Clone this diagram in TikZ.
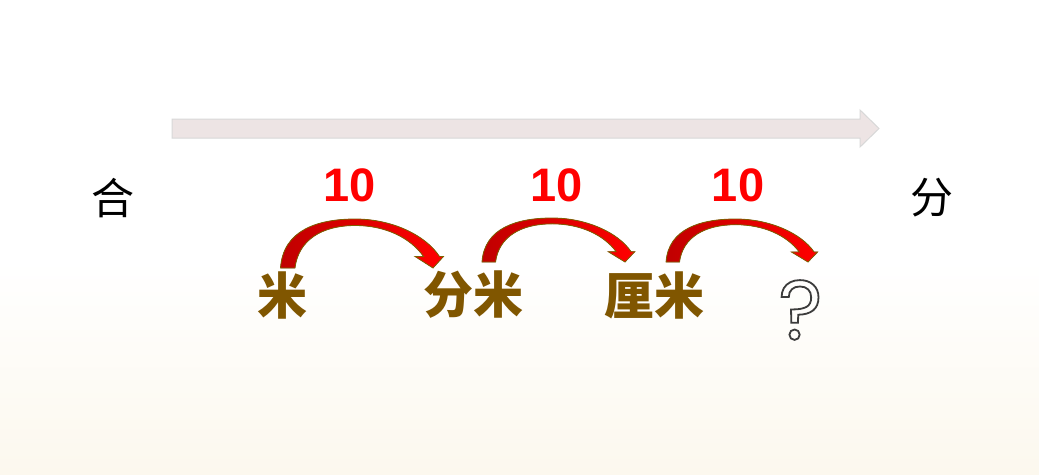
\documentclass[tikz,border=0pt]{standalone}
\usepackage{fontspec}
\setmainfont{Liberation Sans}
\newfontfamily\cjk{Noto Sans CJK SC}
\newfontfamily\roundfont{Poppins}
\usetikzlibrary{calc}
\definecolor{unitbrown}{RGB}{128,86,0}
\definecolor{jumpred}{RGB}{255,0,0}
\definecolor{jumpdark}{RGB}{192,0,0}
\definecolor{jumpedge}{RGB}{128,96,0}
\definecolor{bandfill}{RGB}{237,228,228}
\definecolor{bandedge}{RGB}{216,216,216}
\definecolor{paper}{RGB}{252,248,238}
\definecolor{qgray}{RGB}{60,60,60}

% curved jump arrow: start, tip, rise
\newcommand{\jumparrow}[3]{%
  \path let \p1=($(#2)-(#1)$) in \pgfextra{\pgfmathsetmacro\jumpw{\x1/145.5}\xdef\jumpw{\jumpw}};
  \begin{scope}[shift={(#1)}, xscale=\jumpw, yscale=#3/49]
    \filldraw[jumpfill] (-7.5,0) .. controls (-5,-38) and (30,-49) .. (67.5,-49)
      .. controls (104,-49) and (138,-33) .. (152,-11.5)
      -- (156,-11.5) -- (145.5,0) -- (127.5,-11.5) -- (136,-11.5)
      .. controls (123,-30) and (98,-42.5) .. (67.5,-42.5)
      .. controls (34,-42.5) and (10.5,-28) .. (7,0) -- cycle;
  \end{scope}}

\begin{document}
\begin{tikzpicture}[x=1pt, y=-1pt,
    unit/.style={font=\cjk\bfseries\fontsize{50}{50}\selectfont, text=unitbrown, inner sep=0pt},
    ten/.style={font=\bfseries\fontsize{47}{47}\selectfont, text=jumpred, inner sep=0pt},
    side/.style={font=\cjk\fontsize{43}{43}\selectfont, inner sep=0pt},
    qmark/.style={font=\roundfont\fontsize{84}{84}\selectfont, text=qgray, inner sep=0pt},
    jumpfill/.style={left color=jumpdark, right color=jumpred, draw=jumpedge, line width=0.8pt}]
    % background
    \fill[white] (0,0) rectangle (1039,474);
    \shade[top color=white, bottom color=paper] (0,260) rectangle (1039,474);
    \useasboundingbox (0,0) rectangle (1039,474);

    % direction band
    \filldraw[fill=bandfill, draw=bandedge, line width=1pt]
        (172,119) -- (860,119) -- (860,110) -- (879,128.5) -- (860,147) -- (860,138) -- (172,138) -- cycle;

    \node[side] (he) at (113,198) {合};
    \node[side] (fen) at (932,198) {分};

    % units
    \node[unit] (mi) at (282.5,295) {米};
    \node[unit] (fenmi) at (473.5,295) {分米};
    \node[unit] (limi) at (654,295) {厘米};
    \node[qmark] (q) at (800.5,310) {\special{pdf:code 1 Tr 1.8 w}?\special{pdf:code 0 Tr}};

    % rates
    \node[ten] (t1) at (350,185) {10};
    \node[ten] (t2) at (557,185) {10};
    \node[ten] (t3) at (738,185) {10};

    % jumps
    \coordinate (s1) at ($(mi)+(5.5,-27)$);
    \coordinate (e1) at ($(fenmi)+(-40.5,-27)$);
    \coordinate (s2) at ($(fenmi)+(15.5,-33)$);
    \coordinate (e2) at ($(limi)+(-29,-33)$);
    \coordinate (s3) at ($(limi)+(19,-33)$);
    \coordinate (e3) at ($(q)+(7.5,-48)$);
    \jumparrow{s1}{e1}{49}
    \jumparrow{s2}{e2}{44}
    \jumparrow{s3}{e3}{43}
\end{tikzpicture}
\end{document}
